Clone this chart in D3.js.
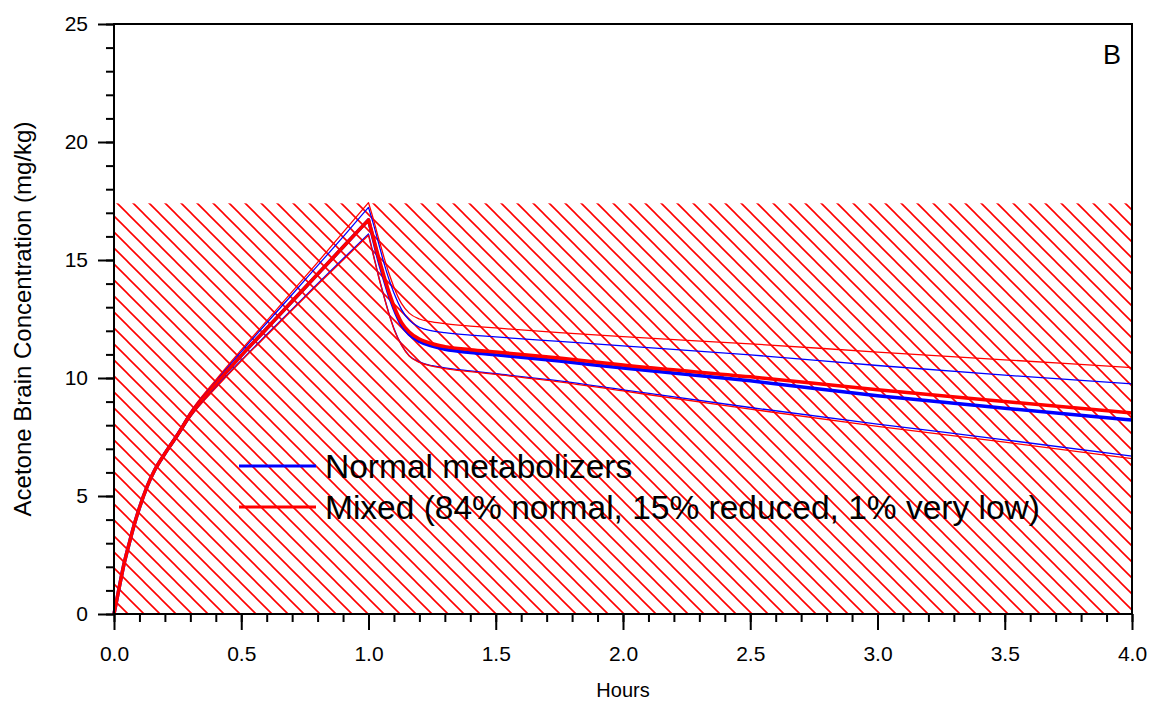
<!DOCTYPE html>
<html>
<head>
<meta charset="utf-8">
<script src="https://cdn.jsdelivr.net/npm/d3@7"></script>
<style>
  body { margin: 0; background: #ffffff; }
  text { font-family: "Liberation Sans", Arial, sans-serif; }
</style>
</head>
<body>
<script>
// time points (hours)
var hours = [0, 0.02, 0.04, 0.06, 0.08, 0.1, 0.13, 0.16, 0.2, 0.25, 0.3, 0.4, 0.5, 0.6, 0.7, 0.8, 0.9, 1.0,
    1.02, 1.04, 1.06, 1.08, 1.1, 1.13, 1.16, 1.2, 1.25, 1.3, 1.4, 1.5, 1.75, 2.0, 2.5, 3.0, 3.5, 4.0];

// normal metabolizers: mean and bounds (mg/kg)
var normalMean = [0, 1.1, 2.15, 3.0, 3.8, 4.5, 5.4, 6.1, 6.8, 7.6, 8.45, 9.75, 10.95, 12.1, 13.25, 14.4, 15.55, 16.7,
    15.85, 15.0, 14.25, 13.55, 12.95, 12.25, 11.85, 11.55, 11.35, 11.22, 11.08, 10.98, 10.72, 10.42, 9.88, 9.25, 8.72, 8.22];
var normalUpper = [0, 1.1, 2.15, 3.0, 3.81, 4.51, 5.42, 6.13, 6.84, 7.66, 8.53, 9.87, 11.12, 12.33, 13.54, 14.76, 15.98, 17.23,
    16.5, 15.7, 14.9, 14.2, 13.6, 12.9, 12.45, 12.15, 12.0, 11.92, 11.82, 11.74, 11.55, 11.36, 10.98, 10.53, 10.12, 9.75];
var normalLower = [0, 1.09, 2.13, 2.98, 3.77, 4.46, 5.35, 6.04, 6.75, 7.53, 8.36, 9.61, 10.75, 11.84, 12.92, 13.99, 15.05, 16.1,
    15.2, 14.3, 13.5, 12.75, 12.1, 11.4, 10.95, 10.68, 10.52, 10.43, 10.3, 10.18, 9.88, 9.5, 8.75, 8.05, 7.38, 6.69];

// mixed population: mean and bounds (mg/kg)
var mixedMean = [0, 1.1, 2.15, 3.0, 3.8, 4.5, 5.4, 6.1, 6.8, 7.6, 8.45, 9.75, 10.95, 12.1, 13.25, 14.4, 15.55, 16.7,
    15.9, 15.1, 14.35, 13.65, 13.05, 12.35, 11.95, 11.65, 11.45, 11.33, 11.2, 11.1, 10.85, 10.55, 10.05, 9.5, 9.0, 8.52];
var mixedUpper = [0, 1.1, 2.15, 3.0, 3.81, 4.52, 5.43, 6.14, 6.86, 7.68, 8.56, 9.92, 11.19, 12.42, 13.66, 14.9, 16.17, 17.43,
    16.7, 15.9, 15.15, 14.45, 13.85, 13.15, 12.75, 12.5, 12.38, 12.3, 12.2, 12.12, 11.92, 11.75, 11.45, 11.1, 10.77, 10.44];
var mixedLower = [0, 1.09, 2.13, 2.98, 3.77, 4.46, 5.34, 6.03, 6.73, 7.51, 8.34, 9.58, 10.72, 11.8, 12.88, 13.95, 15.0, 16.05,
    15.15, 14.27, 13.47, 12.72, 12.07, 11.38, 10.93, 10.66, 10.5, 10.4, 10.27, 10.15, 9.84, 9.45, 8.68, 7.95, 7.28, 6.58];

// hatched region (0 .. limit)
var hatchLimit = 17.4;
var infusionEnd = 1.0;

var xTicks = [0, 0.5, 1.0, 1.5, 2.0, 2.5, 3.0, 3.5, 4.0];
var yTicks = [0, 5, 10, 15, 20, 25];
var legendLabels = ["Normal metabolizers", "Mixed (84% normal, 15% reduced, 1% very low)"];
var legendColors = ["#0000ff", "#ff0000"];

var width = 1149, height = 704;
var plotLeft = 114, plotRight = 1132, plotTop = 24, plotBottom = 614;

var svg = d3.select("body").append("svg")
    .attr("width", width)
    .attr("height", height);

var x = d3.scaleLinear().domain([0, 4]).range([plotLeft, plotRight]);
var y = d3.scaleLinear().domain([0, 25]).range([plotBottom, plotTop]);

// hatch pattern
var pat = svg.append("defs").append("pattern")
    .attr("id", "hatch")
    .attr("patternUnits", "userSpaceOnUse")
    .attr("x", plotLeft + 14)
    .attr("y", plotBottom)
    .attr("width", 16)
    .attr("height", 16);
pat.append("path")
    .attr("d", "M0,0 L16,16 M-4,12 L4,20 M12,-4 L20,4")
    .attr("stroke", "#ff0000")
    .attr("stroke-width", 1.6)
    .attr("fill", "none");

svg.append("rect")
    .attr("x", x(0))
    .attr("y", y(hatchLimit))
    .attr("width", x(4) - x(0))
    .attr("height", y(0) - y(hatchLimit))
    .attr("fill", "url(#hatch)");

// curves: rise and decay drawn as smooth pieces joined at the end of exposure
var line = d3.line()
    .x(function(d) { return x(d[0]); })
    .y(function(d) { return y(d[1]); })
    .curve(d3.curveMonotoneX);

function pathFor(vals) {
    var pts = hours.map(function(h, i) { return [h, vals[i]]; });
    var rise = pts.filter(function(p) { return p[0] <= infusionEnd; });
    var fall = pts.filter(function(p) { return p[0] >= infusionEnd; });
    return line(rise) + line(fall).replace(/^M/, "L");
}

var series = [
    { v: normalUpper, c: "#0000ff", w: 1.3 },
    { v: normalLower, c: "#0000ff", w: 1.3 },
    { v: mixedUpper, c: "#ff0000", w: 1.3 },
    { v: mixedLower, c: "#ff0000", w: 1.3 },
    { v: normalMean, c: "#0000ff", w: 3.5 },
    { v: mixedMean, c: "#ff0000", w: 3.5 }
];

svg.selectAll(".curve")
    .data(series)
    .enter().append("path")
    .attr("class", "curve")
    .attr("d", function(d) { return pathFor(d.v); })
    .attr("fill", "none")
    .attr("stroke", function(d) { return d.c; })
    .attr("stroke-width", function(d) { return d.w; })
    .attr("stroke-linejoin", "round");

// axes
var xMajor = d3.axisBottom(x).tickValues(xTicks).tickSize(16).tickPadding(16)
    .tickFormat(d3.format(".1f"));
var xMinor = d3.axisBottom(x).tickValues(d3.range(0, 41).map(function(i) { return i / 10; }))
    .tickSize(8).tickFormat("");
var yMajor = d3.axisLeft(y).tickValues(yTicks).tickSize(16).tickPadding(10)
    .tickFormat(d3.format("d"));
var yMinor = d3.axisLeft(y).tickValues(d3.range(0, 26)).tickSize(8).tickFormat("");

[[xMinor, "x"], [xMajor, "x"], [yMinor, "y"], [yMajor, "y"]].forEach(function(a) {
    var g = svg.append("g")
        .attr("transform", a[1] == "x" ? "translate(0," + plotBottom + ")" : "translate(" + plotLeft + ",0)")
        .call(a[0]);
    g.select(".domain").remove();
    g.selectAll("line").attr("stroke", "#000").attr("stroke-width", 2);
    g.selectAll("text").attr("font-size", 21).attr("fill", "#000")
        .style("font-family", "'Liberation Sans', Arial, sans-serif");
});

// frame
svg.append("rect")
    .attr("x", plotLeft)
    .attr("y", plotTop)
    .attr("width", plotRight - plotLeft)
    .attr("height", plotBottom - plotTop)
    .attr("fill", "none")
    .attr("stroke", "#000")
    .attr("stroke-width", 2);

// labels
svg.append("text")
    .attr("x", (plotLeft + plotRight) / 2)
    .attr("y", 697)
    .attr("text-anchor", "middle")
    .attr("font-size", 20)
    .text("Hours");

svg.append("text")
    .attr("transform", "translate(31,319) rotate(-90)")
    .attr("text-anchor", "middle")
    .attr("font-size", 24)
    .text("Acetone Brain Concentration (mg/kg)");

svg.append("text")
    .attr("x", 1121)
    .attr("y", 64)
    .attr("text-anchor", "end")
    .attr("font-size", 27)
    .text("B");

// legend
var legend = svg.selectAll(".legend")
    .data(legendLabels)
    .enter().append("g")
    .attr("class", "legend")
    .attr("transform", function(d, i) { return "translate(239," + (466 + i * 41) + ")"; });

legend.append("line")
    .attr("x1", 0).attr("x2", 77)
    .attr("y1", 0).attr("y2", 0)
    .attr("stroke", function(d, i) { return legendColors[i]; })
    .attr("stroke-width", 3);

legend.append("text")
    .attr("x", 86)
    .attr("y", 12)
    .attr("font-size", 33.5)
    .text(function(d) { return d; });
</script>
</body>
</html>
